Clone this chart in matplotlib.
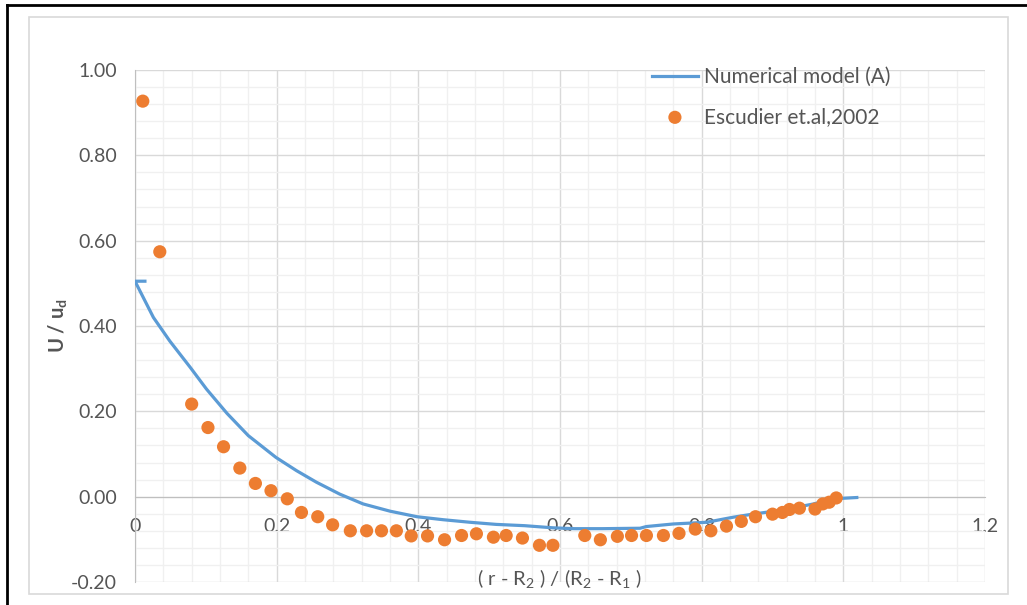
import numpy as np
import matplotlib
matplotlib.use("Agg")
import matplotlib.pyplot as plt
from matplotlib.ticker import MultipleLocator, FormatStrFormatter
from matplotlib.lines import Line2D
from matplotlib.patches import Rectangle

plt.rcParams["font.family"] = ["Lato", "DejaVu Sans"]
plt.rcParams["axes.unicode_minus"] = False

# ── data ──────────────────────────────────────────────────────────────────────
model_x = [0.014, 0.0, 0.026, 0.049, 0.078, 0.101, 0.130, 0.160, 0.199, 0.228,
           0.256, 0.289, 0.322, 0.360, 0.398, 0.435, 0.473, 0.510, 0.550, 0.590,
           0.620, 0.660, 0.713, 0.722, 0.760, 0.807, 0.845, 0.868, 0.915, 0.958,
           0.986, 1.019]
model_y = [0.505, 0.505, 0.420, 0.365, 0.303, 0.252, 0.195, 0.143, 0.092, 0.061,
           0.034, 0.006, -0.017, -0.034, -0.047, -0.054, -0.060, -0.065, -0.068, -0.073,
           -0.075, -0.075, -0.074, -0.070, -0.064, -0.060, -0.048, -0.042, -0.031, -0.017,
           -0.005, -0.002]

exp_x = [0.011, 0.035, 0.080, 0.103, 0.125, 0.148, 0.170, 0.192, 0.215, 0.235,
         0.258, 0.279, 0.304, 0.327, 0.348, 0.369, 0.390, 0.413, 0.437, 0.461,
         0.482, 0.506, 0.524, 0.547, 0.571, 0.590, 0.635, 0.657, 0.681, 0.701,
         0.722, 0.746, 0.768, 0.791, 0.813, 0.835, 0.856, 0.876, 0.900, 0.914,
         0.924, 0.938, 0.960, 0.971, 0.980, 0.990]
exp_y = [0.927, 0.574, 0.217, 0.162, 0.117, 0.067, 0.031, 0.014, -0.005, -0.037,
         -0.047, -0.066, -0.080, -0.080, -0.080, -0.080, -0.092, -0.092, -0.101, -0.091,
         -0.087, -0.095, -0.091, -0.097, -0.114, -0.114, -0.091, -0.101, -0.093, -0.091,
         -0.091, -0.091, -0.086, -0.076, -0.080, -0.069, -0.058, -0.047, -0.041, -0.037,
         -0.030, -0.027, -0.029, -0.017, -0.013, -0.003]

BLUE   = "#5B9BD5"
ORANGE = "#ED7D31"
GREY_T = "#555555"

W, H = 1027, 605
fig = plt.figure(figsize=(W / 100, H / 100), dpi=100)
ax = fig.add_axes([135 / W, 1 - 582 / H, (985 - 135) / W, (582 - 70) / H])

# frame lines around the chart area
fig.add_artist(Line2D([7 / W, 7 / W], [0, 1 - 5 / H], color="black", lw=2,
                      transform=fig.transFigure))
fig.add_artist(Line2D([7 / W, 1], [1 - 5 / H, 1 - 5 / H], color="black", lw=2,
                      transform=fig.transFigure))
fig.add_artist(Rectangle((29 / W, 1 - 594 / H), (1008 - 29) / W, (594 - 17) / H,
                         fill=False, ec="#D9D9D9", lw=1.2, transform=fig.transFigure))

ax.plot(model_x, model_y, color=BLUE, lw=2.3, label="Numerical model (A)", zorder=3)
ax.scatter(exp_x, exp_y, s=90, color=ORANGE, edgecolors="none",
           label="Escudier et.al,2002", zorder=4)

ax.set_xlim(0, 1.2)
ax.set_ylim(-0.2, 1.0)
ax.xaxis.set_major_locator(MultipleLocator(0.2))
ax.xaxis.set_minor_locator(MultipleLocator(0.04))
ax.yaxis.set_major_locator(MultipleLocator(0.2))
ax.yaxis.set_minor_locator(MultipleLocator(0.04))
ax.yaxis.set_major_formatter(FormatStrFormatter("%.2f"))
ax.xaxis.set_major_formatter(lambda v, p: "0" if abs(v) < 1e-9 else ("1" if abs(v - 1) < 1e-9 else f"{v:.1f}"))

ax.grid(which="major", color="#D9D9D9", lw=1.0)
ax.grid(which="minor", color="#F0F0F0", lw=1.0)
ax.set_axisbelow(True)

for s in ["top", "right"]:
    ax.spines[s].set_visible(False)
ax.spines["left"].set_color("#BFBFBF")
ax.spines["bottom"].set_color("#BFBFBF")
ax.spines["bottom"].set_position(("data", 0))
ax.tick_params(which="both", length=0)
ax.tick_params(axis="y", pad=13, labelsize=14, labelcolor=GREY_T)
ax.tick_params(axis="x", pad=15, labelsize=14, labelcolor=GREY_T)

fig.text(58 / W, 1 - 326 / H, "U / u$_\\mathregular{d}$", rotation=90, ha="center",
         va="center", fontsize=14.5, fontweight="bold", color=GREY_T)
fig.text(559 / W, 1 - 579 / H,
         "( r - R$_\\mathregular{2}$ ) / (R$_\\mathregular{2}$ - R$_\\mathregular{1}$ )",
         ha="center", va="center", fontsize=14.5, color=GREY_T)

leg = ax.legend(loc="upper left", bbox_to_anchor=(652 / W, 1 - 67 / H),
                bbox_transform=fig.transFigure, frameon=False, fontsize=15,
                handlelength=2.2, handletextpad=0.3, labelspacing=0.95,
                borderpad=0, borderaxespad=0)
for t in leg.get_texts():
    t.set_color(GREY_T)

fig.savefig("out.png", dpi=100)
